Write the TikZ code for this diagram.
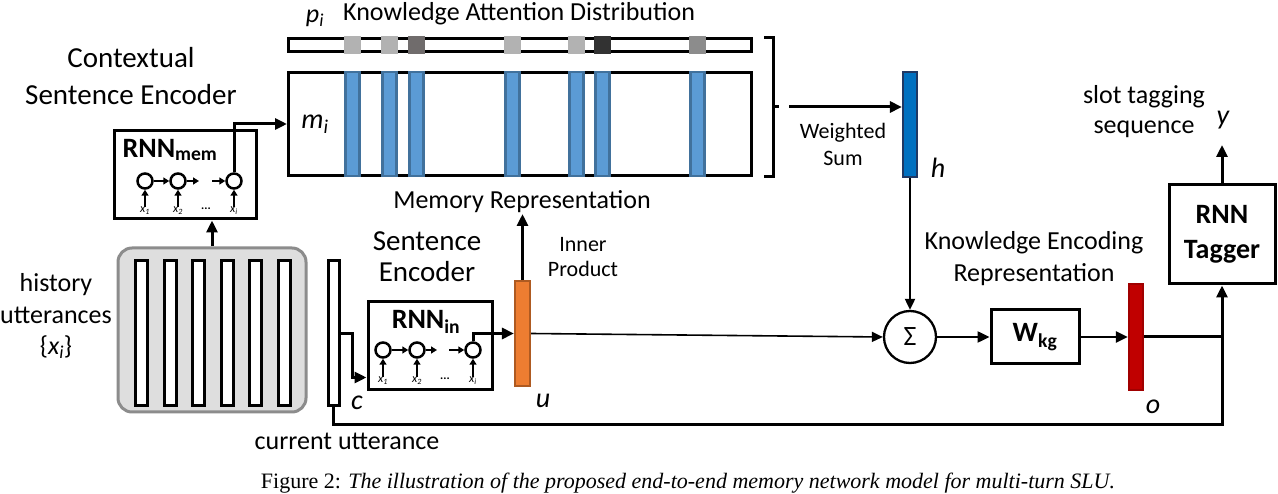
\documentclass[tikz,border=0pt]{standalone}
\usepackage{fontspec}
\setmainfont{Carlito}
\newfontfamily\capfont{Liberation Serif}
\usepackage{tikz}
\usetikzlibrary{arrows.meta,positioning,calc}
\definecolor{HistFill}{RGB}{222,222,222}
\definecolor{HistLine}{RGB}{140,140,140}
\definecolor{MemBlue}{RGB}{91,155,213}
\definecolor{MemEdge}{RGB}{65,113,156}
\definecolor{AttLight}{RGB}{178,178,178}
\definecolor{AttMid}{RGB}{140,140,140}
\definecolor{AttDark}{RGB}{112,108,108}
\definecolor{AttBlack}{RGB}{50,50,50}
\definecolor{UOrange}{RGB}{237,125,49}
\definecolor{UEdge}{RGB}{174,90,33}
\definecolor{HBlue}{RGB}{0,112,192}
\definecolor{HEdge}{RGB}{31,56,100}
\definecolor{ORed}{RGB}{192,0,0}
\definecolor{OEdge}{RGB}{160,0,0}

\begin{document}
\begin{tikzpicture}[x=1pt,y=-1pt,
  lbl/.style={font=\fontsize{26}{32}\selectfont,align=center,inner sep=0pt},
  biglbl/.style={font=\fontsize{29}{37}\selectfont,align=center,inner sep=0pt},
  smllbl/.style={font=\fontsize{22}{27}\selectfont,align=center,inner sep=0pt},
  var/.style={font=\fontsize{28}{30}\selectfont\itshape,inner sep=0pt},
  tinyvar/.style={font=\fontsize{12}{12}\selectfont\itshape,inner sep=0pt},
  rnnlbl/.style={font=\fontsize{28}{28}\selectfont\bfseries,inner sep=0pt},
  boxb/.style={rectangle,draw,line width=3pt,inner sep=0pt,
    font=\fontsize{28}{35}\selectfont\bfseries,align=center},
  vbar/.style={rectangle,draw,line width=2.2pt,inner sep=0pt,minimum width=14pt},
  cell/.style={circle,draw,line width=2.5pt,minimum size=15pt,inner sep=0pt},
  arr/.style={-{Triangle[length=12pt,width=11pt]},line width=3pt},
  tarr/.style={-{Triangle[length=11pt,width=10pt]},line width=2pt},
  sarr/.style={-{Triangle[length=6pt,width=7pt]},line width=2.3pt},
  ln/.style={line width=3pt}
]
\useasboundingbox (0,0) rectangle (1278,494);

% knowledge attention / memory
\node[rectangle,draw,line width=3pt,minimum width=463pt,minimum height=13pt,inner sep=0pt] (pbar) at (520,45) {};
\node[rectangle,draw,line width=3pt,minimum width=463pt,minimum height=103pt,inner sep=0pt] (mbox) at (520,124) {};
\foreach \xl/\sh in {344/AttLight,381/AttLight,408/AttDark,504/AttLight,568/AttLight,594/AttBlack,689/AttMid}{
  \fill[\sh] (\xl,36) rectangle ++(17,18);
  \node[vbar,fill=MemBlue,draw=MemEdge,minimum height=104pt] (mem\xl) at (\xl+8.5,124) {};
}
\node[var,font=\fontsize{26}{28}\selectfont\itshape] (plbl) at (315,18) {p\textsubscript{i}};
\node[lbl,anchor=west] (atttitle) at (343,14) {Knowledge Attention Distribution};
\node[var] (mlbl) at (315,124) {m\textsubscript{i}};

% weighted sum
\draw[ln] (764,38) -- (773,38) -- (773,177) -- (764,177);
\draw[ln] (773,107) -- (779,107);
\coordinate (wsum) at (789,107);
\node[vbar,fill=HBlue,draw=HEdge,minimum height=105pt] (hbar) at (910,124.5) {};
\draw[arr] (wsum) -- (wsum -| hbar.west);
\node[smllbl] (wslbl) at (843,144) {Weighted\\Sum};
\node[var] (hlbl) at (938,168) {h};

% knowledge encoding
\node[circle,draw,line width=2.3pt,minimum size=52pt,inner sep=0pt,font=\fontsize{28}{28}\selectfont] (sum) at (910,337) {Σ};
\draw[tarr] (hbar.south) -- (sum.north);
\node[lbl] (kelbl) at (1034,259) {Knowledge Encoding\\Representation};
\node[boxb,minimum width=88pt,minimum height=54pt] (wkg) at (1035,337) {W\textsubscript{kg}};
\node[vbar,fill=ORed,draw=OEdge,minimum height=106pt] (obar) at (1136,337) {};
\node[var] (olbl) at (1153,407) {o};
\draw[arr,line width=2.4pt] (sum.east) -- (wkg.west);
\draw[arr,line width=2.4pt] (wkg.east) -- (obar.west);

% tagger
\node[boxb,minimum width=106pt,minimum height=99pt] (tagger) at (1222,234.5) {RNN\\Tagger};
\coordinate (yout) at (1222,145);
\draw[arr] (tagger.north) -- (yout);
\node[var] (ylbl) at (1223,120) {y};
\node[lbl,font=\fontsize{26}{30}\selectfont] (slotlbl) at (1144,112) {slot tagging\\sequence};
\draw[ln] (obar.east) -- (obar.east -| tagger.south);

% sentence encoder
\node[vbar,fill=UOrange,draw=UEdge,minimum width=15pt,minimum height=105pt] (ubar) at (522.5,333.5) {};
\coordinate (memrep) at (522.5,214);
\draw[arr] (ubar.north) -- (memrep);
\node[lbl] (memlbl) at (522,202) {Memory Representation};
\node[smllbl,font=\fontsize{22}{25}\selectfont] (iplbl) at (583,257) {Inner\\Product};
\draw[tarr,line width=1.6pt] (ubar.east) -- (sum.west);
\node[var] (ulbl) at (543,401) {u};

\node[boxb,minimum width=124pt,minimum height=88pt] (rnnin) at (430,346) {};
\node[rnnlbl] (rnninlbl) at (426,322) {RNN\textsubscript{in}};
\node[cell] (s1) at (383,350) {};
\node[cell] (s2) at (417,350) {};
\node[cell] (s3) at (473,350) {};
\coordinate (s2o) at (437,350);
\coordinate (s3i) at (449,350);
\draw[sarr] (s1) -- (s2);
\draw[sarr] (s2.east) -- (s2o);
\draw[sarr] (s3i) -- (s3.west);
\node[tinyvar] (xs1) at (383,381) {x\textsubscript{1}};
\node[tinyvar] (xs2) at (417,381) {x\textsubscript{2}};
\node[font=\fontsize{12}{12}\selectfont\bfseries,inner sep=0pt] (xsd) at (445,379) {...};
\node[tinyvar] (xs3) at (473,381) {x\textsubscript{i}};
\draw[sarr] (xs1.north) -- (s1.south);
\draw[sarr] (xs2.north) -- (s2.south);
\draw[sarr] (xs3.north) -- (s3.south);
\draw[arr] (s3.north) |- (ubar.west);
\node[biglbl,font=\fontsize{29}{31}\selectfont] (sentlbl) at (427,256.5) {Sentence\\Encoder};

% current utterance
\node[vbar,fill=white,line width=3pt,minimum width=11pt,minimum height=145pt] (cur) at (333.5,333.5) {};
\draw[arr] (cur.east) -- ++(12,0) |- ($(rnnin.south west)+(0,-14)$);
\node[var] (clbl) at (357,403) {c};
\node[lbl] (curlbl) at (347,441) {current utterance};
\draw[arr] (cur.south) -- ++(0,17) -| (tagger.south);

% history + contextual encoder
\node[rectangle,rounded corners=14pt,draw=HistLine,fill=HistFill,line width=3pt,minimum width=188pt,minimum height=164pt] (hist) at (212,330) {};
\foreach \xc [count=\k] in {141.5,170.1,198.7,227.3,255.9,284.5}
  \node[vbar,fill=white,line width=3pt,minimum width=12pt,minimum height=145pt] (hb\k) at (\xc,333.5) {};
\node[lbl,font=\fontsize{26}{31.5}\selectfont] (histlbl) at (56,316) {history\\utterances\\\{{\itshape x}\textsubscript{\itshape i}\}};

\node[boxb,minimum width=142pt,minimum height=88pt] (rnnmem) at (185,175) {};
\node[rnnlbl] (rnnmemlbl) at (170,150) {RNN\textsubscript{mem}};
\node[cell] (m1) at (145,181) {};
\node[cell] (m2) at (178,181) {};
\node[cell] (m3) at (234,181) {};
\coordinate (m2o) at (199,181);
\coordinate (m3i) at (212,181);
\draw[sarr] (m1) -- (m2);
\draw[sarr] (m2.east) -- (m2o);
\draw[sarr] (m3i) -- (m3.west);
\node[tinyvar] (xm1) at (145,211) {x\textsubscript{1}};
\node[tinyvar] (xm2) at (178,211) {x\textsubscript{2}};
\node[font=\fontsize{12}{12}\selectfont\bfseries,inner sep=0pt] (xmd) at (206,209) {...};
\node[tinyvar] (xm3) at (234,211) {x\textsubscript{i}};
\draw[sarr] (xm1.north) -- (m1.south);
\draw[sarr] (xm2.north) -- (m2.south);
\draw[sarr] (xm3.north) -- (m3.south);
\draw[arr] (m3.north) |- (mbox.west);
\draw[arr] (hist.north) -- (hist.north |- rnnmem.south);
\node[biglbl] (ctxlbl) at (131,76) {Contextual\\Sentence Encoder};

% caption
\node[font=\capfont\fontsize{22}{22}\selectfont,inner sep=0pt] (cap) at (688,483) {Figure 2: \textit{The illustration of the proposed end-to-end memory network model for multi-turn SLU.}};
\end{tikzpicture}
\end{document}
